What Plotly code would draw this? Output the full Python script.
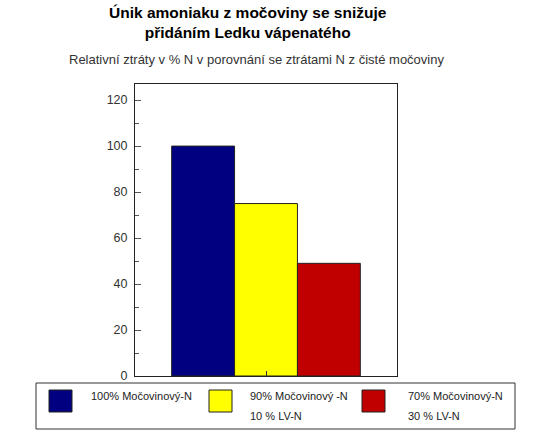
import plotly.graph_objects as go

# Data
category = ["Močovina"]
series_names = ["100% Močovinový-N", "90% Močovinový -N", "70% Močovinový-N"]
series_sub = ["", "10 % LV-N", "30 % LV-N"]
series_values = [100, 75, 49]
series_colors = ["#000080", "#FFFF00", "#C00000"]
y_ticks = [0, 20, 40, 60, 80, 100, 120]

W, H = 546, 433
L, R, T, B = 135, 397, 84, 376  # plot area in pixels


def px(x):
    return (x - L) / (R - L)


def py(y):
    return (B - y) / (B - T)


fig = go.Figure()
for name, val, col in zip(series_names, series_values, series_colors):
    fig.add_trace(go.Bar(
        x=category, y=[val], name=name,
        marker=dict(color=col, line=dict(color="#222222", width=1)),
        showlegend=False,
    ))

font = "Liberation Sans, Arial, sans-serif"
shapes = []
annotations = []

# Legend frame
shapes.append(dict(type="rect", xref="paper", yref="paper",
                   x0=px(36), x1=px(515), y0=py(383), y1=py(429),
                   line=dict(color="#333333", width=1), fillcolor="white", layer="above"))

sq_x = [49, 209, 362]
txt_x = [89, 248, 406]
for i in range(3):
    shapes.append(dict(type="rect", xref="paper", yref="paper",
                       x0=px(sq_x[i]), x1=px(sq_x[i] + 23), y0=py(390), y1=py(412),
                       line=dict(color="#222222", width=1), fillcolor=series_colors[i],
                       layer="above"))
    annotations.append(dict(xref="paper", yref="paper", x=px(txt_x[i]), y=py(396),
                            text=series_names[i], showarrow=False, xanchor="left",
                            yanchor="middle", font=dict(family=font, size=11, color="#222222")))
    if series_sub[i]:
        annotations.append(dict(xref="paper", yref="paper", x=px(txt_x[i]), y=py(416),
                                text=series_sub[i], showarrow=False, xanchor="left",
                                yanchor="middle", font=dict(family=font, size=11, color="#222222")))

# Titles
annotations.append(dict(xref="paper", yref="paper", x=px(248), y=py(23),
                        text="<b>Únik amoniaku z močoviny se snižuje<br>přidáním Ledku vápenatého</b>",
                        showarrow=False, xanchor="center", yanchor="middle",
                        font=dict(family=font, size=15.5, color="black")))
annotations.append(dict(xref="paper", yref="paper", x=px(256), y=py(60),
                        text="Relativní ztráty v % N v porovnání se ztrátami N z čisté močoviny",
                        showarrow=False, xanchor="center", yanchor="middle",
                        font=dict(family=font, size=13, color="#333333")))

fig.update_layout(
    width=W, height=H,
    margin=dict(l=L, r=W - R, t=T, b=H - B, pad=0),
    paper_bgcolor="white", plot_bgcolor="white",
    barmode="group", bargap=0.28, bargroupgap=0,
    shapes=shapes, annotations=annotations,
    font=dict(family=font),
)
fig.update_xaxes(showticklabels=False, ticks="inside", ticklen=5, tickcolor="#333333",
                 showline=True, linecolor="#222222", linewidth=1, mirror=True,
                 showgrid=False)
fig.update_yaxes(range=[0, 127], tickvals=y_ticks, ticks="inside", ticklen=6,
                 tickcolor="#555555", ticklabelstandoff=4,
                 minor=dict(dtick=10, ticks="inside", ticklen=4, tickcolor="#555555"),
                 showline=True, linecolor="#222222", linewidth=1, mirror=True,
                 showgrid=False, zeroline=False,
                 tickfont=dict(family=font, size=12.5, color="#333333"))

fig.write_html("out.html")
